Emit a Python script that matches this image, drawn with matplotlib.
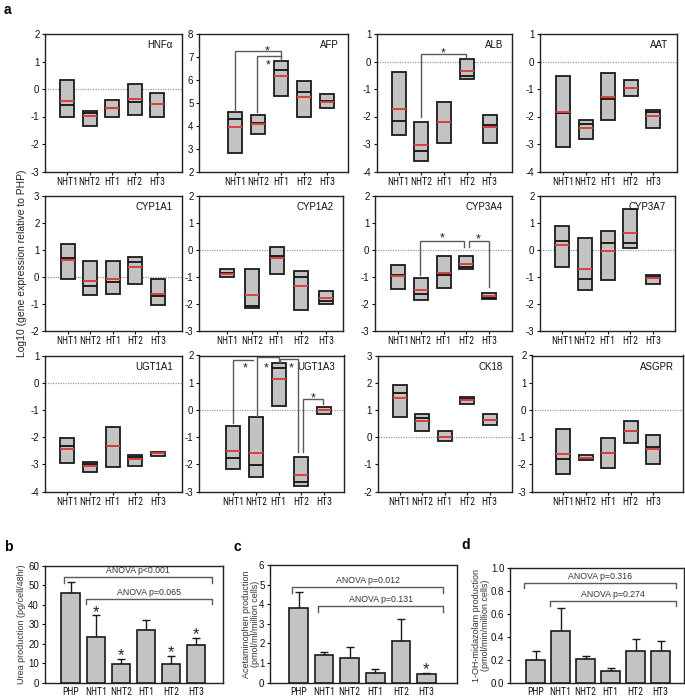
import matplotlib
matplotlib.use('Agg')
import matplotlib.pyplot as plt
from matplotlib import font_manager
from matplotlib.font_manager import FontProperties
from matplotlib.textpath import TextPath
import numpy as np

# ---------------- data ----------------
groups = ['NHT1', 'NHT2', 'HT1', 'HT2', 'HT3']
bar_groups = ['PHP', 'NHT1', 'NHT2', 'HT1', 'HT2', 'HT3']

# panel a : box = range (min..max), black = median, red = mean (log10 relative to PHP)
hnfa_max = [0.31, -0.80, -0.40, 0.19, -0.15]
hnfa_min = [-1.01, -1.34, -1.01, -0.95, -1.01]
hnfa_med = [-0.59, -0.87, -0.68, -0.46, -0.56]
hnfa_mean = [-0.43, -0.99, -0.70, -0.37, -0.56]

afp_max = [4.58, 4.48, 6.81, 5.93, 5.38]
afp_min = [2.79, 3.63, 5.31, 4.39, 4.77]
afp_med = [4.29, 4.10, 6.43, 5.45, 5.09]
afp_mean = [3.92, 4.07, 6.18, 5.26, 5.05]

alb_max = [-0.37, -2.20, -1.48, 0.09, -1.93]
alb_min = [-2.66, -3.61, -2.96, -0.62, -2.96]
alb_med = [-2.17, -3.27, -2.21, -0.52, -2.32]
alb_mean = [-1.72, -3.02, -2.21, -0.34, -2.39]

aat_max = [-0.54, -2.11, -0.42, -0.66, -1.75]
aat_min = [-3.10, -2.83, -2.11, -1.27, -2.41]
aat_med = [-1.89, -2.29, -1.35, -0.96, -1.84]
aat_mean = [-1.84, -2.41, -1.29, -0.96, -1.99]

cyp1a1_max = [1.19, 0.57, 0.57, 0.73, -0.11]
cyp1a1_min = [-0.11, -0.67, -0.64, -0.26, -1.07]
cyp1a1_med = [0.67, -0.36, -0.20, 0.53, -0.73]
cyp1a1_mean = [0.60, -0.15, -0.09, 0.35, -0.64]

cyp1a2_max = [-0.74, -0.74, 0.10, -0.78, -1.52]
cyp1a2_min = [-1.00, -2.17, -0.91, -2.23, -2.02]
cyp1a2_med = [-0.86, -2.11, -0.25, -1.00, -1.90]
cyp1a2_mean = [-0.91, -1.68, -0.33, -1.34, -1.80]

cyp3a4_max = [-0.56, -1.07, -0.25, -0.25, -1.60]
cyp3a4_min = [-1.46, -1.88, -1.42, -0.72, -1.85]
cyp3a4_med = [-0.96, -1.64, -0.96, -0.64, -1.79]
cyp3a4_mean = [-0.99, -1.51, -0.86, -0.53, -1.73]

cyp3a7_max = [0.86, 0.43, 0.70, 1.51, -0.96]
cyp3a7_min = [-0.64, -1.50, -1.13, 0.04, -1.29]
cyp3a7_med = [0.31, -1.10, 0.25, 0.25, -1.00]
cyp3a7_mean = [0.18, -0.71, -0.04, 0.61, -1.04]

ugt1a1_max = [-2.03, -2.92, -1.62, -2.67, -2.54]
ugt1a1_min = [-2.95, -3.28, -3.10, -3.07, -2.68]
ugt1a1_med = [-2.33, -2.99, -2.33, -2.73, -2.60]
ugt1a1_mean = [-2.42, -3.05, -2.33, -2.80, -2.60]

ugt1a3_max = [-0.61, -0.27, 1.73, -1.74, 0.10]
ugt1a3_min = [-2.17, -2.48, 0.16, -2.78, -0.15]
ugt1a3_med = [-1.76, -2.02, 1.53, -2.66, -0.02]
ugt1a3_mean = [-1.52, -1.59, 1.14, -2.39, -0.02]

ck18_max = [1.93, 0.85, 0.23, 1.46, 0.85]
ck18_min = [0.74, 0.23, -0.14, 1.23, 0.45]
ck18_med = [1.62, 0.70, 0.02, 1.40, 0.64]
ck18_mean = [1.44, 0.61, 0.02, 1.35, 0.64]

asgpr_max = [-0.71, -1.67, -1.04, -0.40, -0.93]
asgpr_min = [-2.34, -1.85, -2.12, -1.20, -2.00]
asgpr_med = [-1.79, -1.75, -1.57, -0.77, -1.38]
asgpr_mean = [-1.61, -1.75, -1.57, -0.77, -1.45]

# significance brackets: (x_left, x_right, y, y_left_end, y_right_end) ; stars (x, y)
afp_brackets = [(0, 2, 7.24, 4.65, 7.05), (0.97, 2, 7.05, 4.58, 6.86)]
afp_stars = [(1.40, 7.42), (1.43, 6.81)]
alb_brackets = [(0.98, 2.96, 0.27, -2.0, 0.11)]
alb_stars = [(1.97, 0.43)]
cyp3a4_brackets = [(0.96, 2.90, 0.31, -0.93, 0.10), (3.13, 4.0, 0.31, 0.10, -1.38)]
cyp3a4_stars = [(1.96, 0.56), (3.52, 0.53)]
ugt1a3_brackets = [(0.0, 0.88, 1.84, -0.49, 1.84), (1.04, 2.03, 1.94, -0.21, 1.75),
                   (2.05, 2.86, 1.86, 1.75, -1.56), (3.08, 3.96, 0.40, -1.56, 0.22)]
ugt1a3_stars = [(0.53, 1.69), (1.48, 1.69), (2.57, 1.69), (3.52, 0.56)]

# panel b-d : mean and upper SD
urea_mean = [46.0, 23.5, 9.7, 26.9, 9.7, 19.6]
urea_err = [5.6, 11.1, 2.6, 5.5, 3.9, 3.4]
urea_star = [False, True, True, False, True, True]
apap_mean = [3.79, 1.41, 1.24, 0.51, 2.13, 0.44]
apap_err = [0.82, 0.17, 0.56, 0.17, 1.10, 0.04]
apap_star = [False, False, False, False, False, True]
mdz_mean = [0.20, 0.45, 0.21, 0.10, 0.28, 0.28]
mdz_err = [0.08, 0.20, 0.02, 0.03, 0.10, 0.08]
mdz_star = [False] * 6

urea_anova = [(-0.27, 5.62, 54.2, 51.4, 'ANOVA p<0.001'), (0.60, 5.62, 43.1, 40.5, 'ANOVA p=0.065')]
apap_anova = [(-0.27, 5.67, 4.86, 4.56, 'ANOVA p=0.012'), (0.77, 5.67, 3.91, 3.62, 'ANOVA p=0.131')]
mdz_anova = [(-0.46, 5.61, 0.864, 0.82, 'ANOVA p=0.316'), (0.57, 5.61, 0.713, 0.667, 'ANOVA p=0.274')]

# ---------------- style ----------------
names = {f.name for f in font_manager.fontManager.ttflist}
BASE = ['Liberation Sans', 'DejaVu Sans']
plt.rcParams['font.family'] = BASE
plt.rcParams['axes.unicode_minus'] = False

# category labels in the reference are set in a narrow face: pick a narrow font if any,
# and size it so that "NHT1" is ~20 px wide (capped at 7 pt)
XT_FAMILY = BASE
for cand in ['Liberation Sans Narrow', 'Arial Narrow', 'Roboto Condensed', 'Open Sans Condensed']:
    if cand in names:
        XT_FAMILY = [cand, 'Liberation Sans']
        break
_w = TextPath((0, 0), 'NHT1', size=10, prop=FontProperties(family=XT_FAMILY[0])).get_extents().width
XT_SIZE = min(7.0, 10 * 20.5 / (_w * 100 / 72))

W, H = 685, 700
fig = plt.figure(figsize=(W / 100, H / 100), dpi=100)

BOX_FC = '#c3c3c3'
EDGE = '#1a1a1a'
RED = '#d8403c'
BRK = '#5a5a5a'


def add_axes(l, r, t, b):
    return fig.add_axes([l / W, 1 - b / H, (r - l) / W, (b - t) / H])


def style_axes(ax):
    for s in ax.spines.values():
        s.set_linewidth(1.0)
        s.set_color('#222222')
    ax.tick_params(axis='y', direction='out', length=2.5, width=0.8, pad=1.5,
                   labelsize=7, colors='#111111')
    ax.tick_params(axis='x', direction='out', length=2, width=0.8, pad=2,
                   colors='#111111')
    for lab in ax.get_xticklabels():
        lab.set_family(XT_FAMILY)
        lab.set_fontsize(XT_SIZE)


def star(ax, x, y, size):
    # place so that the ink centre of '*' sits at (x, y)
    ax.annotate('*', xy=(x, y), xytext=(0, -0.58 * size), textcoords='offset points',
                ha='center', va='baseline', fontsize=size, color='#222222')


gene_panels = [
    ('HNFα', hnfa_max, hnfa_min, hnfa_med, hnfa_mean, (-3, 2), [], []),
    ('AFP', afp_max, afp_min, afp_med, afp_mean, (2, 8), afp_brackets, afp_stars),
    ('ALB', alb_max, alb_min, alb_med, alb_mean, (-4, 1), alb_brackets, alb_stars),
    ('AAT', aat_max, aat_min, aat_med, aat_mean, (-4, 1), [], []),
    ('CYP1A1', cyp1a1_max, cyp1a1_min, cyp1a1_med, cyp1a1_mean, (-2, 3), [], []),
    ('CYP1A2', cyp1a2_max, cyp1a2_min, cyp1a2_med, cyp1a2_mean, (-3, 2), [], []),
    ('CYP3A4', cyp3a4_max, cyp3a4_min, cyp3a4_med, cyp3a4_mean, (-3, 2), cyp3a4_brackets, cyp3a4_stars),
    ('CYP3A7', cyp3a7_max, cyp3a7_min, cyp3a7_med, cyp3a7_mean, (-3, 2), [], []),
    ('UGT1A1', ugt1a1_max, ugt1a1_min, ugt1a1_med, ugt1a1_mean, (-4, 1), [], []),
    ('UGT1A3', ugt1a3_max, ugt1a3_min, ugt1a3_med, ugt1a3_mean, (-3, 2), ugt1a3_brackets, ugt1a3_stars),
    ('CK18', ck18_max, ck18_min, ck18_med, ck18_mean, (-2, 3), [], []),
    ('ASGPR', asgpr_max, asgpr_min, asgpr_med, asgpr_mean, (-3, 2), [], []),
]

# layout in pixels: (left, right, top, bottom, first-category px, last-category px)
gene_layout = [
    (45, 181.5, 34, 171.5, 67, 157), (199, 348, 34, 171.5, 235, 327),
    (377, 512, 34, 171.5, 398.7, 489.7), (540, 677, 34, 171.5, 563, 653),
    (45, 182, 195.5, 330.5, 67.5, 158), (199, 343, 195.5, 330.5, 227, 326),
    (375, 512, 195.5, 330.5, 398, 489), (540, 675, 195.5, 330.5, 562, 653),
    (45, 182, 355.5, 491.5, 67, 158), (199, 344, 355.5, 491.5, 233, 324),
    (377.7, 511.7, 355.5, 491.5, 399.7, 489.7), (532, 683, 355.5, 491.5, 563, 653),
]

x = np.arange(len(groups))
for (name, mx, mn, med, mean, ylim, brs, sts), (l, r, t, b, c0, c4) in zip(gene_panels, gene_layout):
    ax = add_axes(l, r, t, b)
    sp = (c4 - c0) / 4
    ax.set_xlim((l - c0) / sp, 4 + (r - c4) / sp)
    ax.set_ylim(*ylim)
    bw = 14.0 / sp
    mx = np.array(mx); mn = np.array(mn)
    if ylim[0] < 0 < ylim[1]:
        ax.axhline(0, color='#9a9a9a', lw=0.9, ls=(0, (1, 1)), zorder=1)
    ax.bar(x, mx - mn, bottom=mn, width=bw, color=BOX_FC, edgecolor=EDGE, linewidth=1.3, zorder=2)
    ax.hlines(med, x - bw / 2, x + bw / 2, color='#111111', lw=1.3, zorder=3)
    ax.hlines(mean, x - bw / 2, x + bw / 2, color=RED, lw=1.4, zorder=4)
    for (x1, x2, yy, y1e, y2e) in brs:
        ax.plot([x1, x1, x2, x2], [y1e, yy, yy, y2e], color=BRK, lw=1.0, zorder=5,
                solid_joinstyle='miter')
    for (sx, sy) in sts:
        star(ax, sx, sy, 9)
    ax.set_yticks(np.arange(ylim[0], ylim[1] + 1))
    ax.set_xticks(x)
    ax.set_xticklabels(groups)
    ax.text(1 - 9 / (r - l), 1 - 6 / (b - t), name, transform=ax.transAxes, ha='right', va='top',
            fontsize=7, color='#111111')
    style_axes(ax)

fig.text(22 / W, 1 - 263 / H, 'Log10 (gene expression relative to PHP)', rotation=90,
         ha='center', va='center', fontsize=7.5, color='#222222')

# ---------------- bar panels ----------------
bar_panels = [
    (urea_mean, urea_err, urea_star, urea_anova, (0, 60), np.arange(0, 61, 10), '%d',
     'Urea production (pg/cell/48hr)', (44.5, 223, 566, 682.7, 70.7, 196.2), 22),
    (apap_mean, apap_err, apap_star, apap_anova, (0, 6), np.arange(0, 7, 1), '%d',
     'Acetaminophen production\n(pmol/ml/million cells)', (270, 456.7, 565, 682.7, 298.7, 426.3), 251),
    (mdz_mean, mdz_err, mdz_star, mdz_anova, (0, 1.0), np.linspace(0, 1.0, 6), '%.1f',
     '1-OH-midazolam production\n(pmol/min/million cells)', (510, 684, 567.7, 682.7, 535.7, 660.7), 481),
]

xb = np.arange(len(bar_groups))
for mean, err, stars, anova, ylim, yt, fmt, ylab, (l, r, t, b, c0, c5), ylx in bar_panels:
    ax = add_axes(l, r, t, b)
    sp = (c5 - c0) / 5
    ax.set_xlim((l - c0) / sp, 5 + (r - c5) / sp)
    ax.set_ylim(*ylim)
    mean = np.array(mean); err = np.array(err)
    ax.bar(xb, mean, width=18.5 / sp, color=BOX_FC, edgecolor=EDGE, linewidth=1.2, zorder=3)
    ax.errorbar(xb, mean, yerr=[np.zeros_like(err), err], fmt='none', ecolor=EDGE,
                elinewidth=1.0, capsize=2.6, capthick=1.0, zorder=2)
    for i, s in enumerate(stars):
        if s:
            ax.annotate('*', xy=(xb[i], mean[i] + err[i]), xytext=(0, 6 - 0.58 * 12),
                        textcoords='offset points', ha='center', va='baseline',
                        fontsize=12, color='#222222')
    for (x1, x2, yy, ye, txt) in anova:
        ax.plot([x1, x1, x2, x2], [ye, yy, yy, ye], color=BRK, lw=1.0, zorder=4)
        ax.annotate(txt, xy=((x1 + x2) / 2, yy), xytext=(0, 1.5), textcoords='offset points',
                    ha='center', va='bottom', fontsize=6.3, color='#333333')
    ax.set_yticks(yt)
    ax.set_yticklabels([fmt % v for v in yt])
    ax.set_xticks(xb)
    ax.set_xticklabels(bar_groups)
    style_axes(ax)
    ax.tick_params(axis='x', length=0, pad=3)
    fig.text(ylx / W, 1 - (t + b) / 2 / H, ylab, rotation=90, ha='center', va='center',
             fontsize=6.5, color='#333333', linespacing=1.0)

# panel letters
for lab, px, py in [('a', 4, 10), ('b', 4, 547), ('c', 233, 547), ('d', 461, 545)]:
    fig.text(px / W, 1 - py / H, lab, fontsize=10, fontweight='bold', ha='left', va='center')

fig.savefig('out.png', dpi=100)
